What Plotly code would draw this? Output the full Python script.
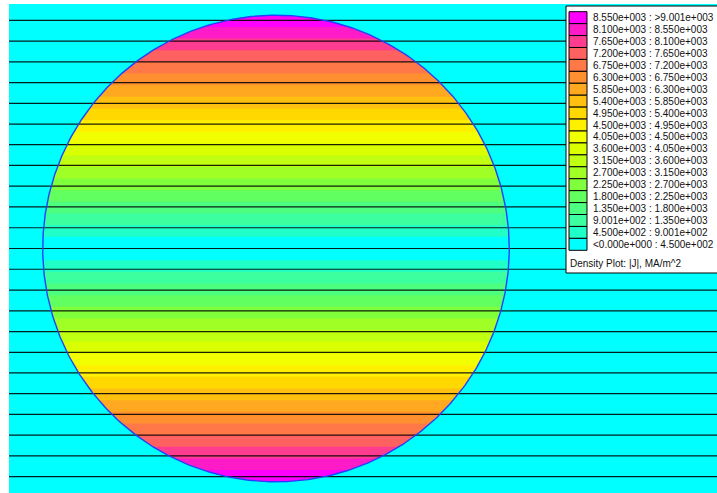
import numpy as np
import plotly.graph_objects as go

# Conductor geometry (normalised units) and peak current density
R = 1.0
CENTER_X, CENTER_Y = 0.0, 0.0
J_PEAK = 9001.0  # MA/m^2

# Density band lower bounds (MA/m^2), lowest band first
band_lower = [0.0, 450.0, 900.1, 1350.0, 1800.0, 2250.0, 2700.0, 3150.0, 3600.0, 4050.0,
              4500.0, 4950.0, 5400.0, 5850.0, 6300.0, 6750.0, 7200.0, 7650.0, 8100.0, 8550.0]

# Legend labels, lowest band first
band_labels = [
    "<0.000e+000 : 4.500e+002",
    "4.500e+002 : 9.001e+002",
    "9.001e+002 : 1.350e+003",
    "1.350e+003 : 1.800e+003",
    "1.800e+003 : 2.250e+003",
    "2.250e+003 : 2.700e+003",
    "2.700e+003 : 3.150e+003",
    "3.150e+003 : 3.600e+003",
    "3.600e+003 : 4.050e+003",
    "4.050e+003 : 4.500e+003",
    "4.500e+003 : 4.950e+003",
    "4.950e+003 : 5.400e+003",
    "5.400e+003 : 5.850e+003",
    "5.850e+003 : 6.300e+003",
    "6.300e+003 : 6.750e+003",
    "6.750e+003 : 7.200e+003",
    "7.200e+003 : 7.650e+003",
    "7.650e+003 : 8.100e+003",
    "8.100e+003 : 8.550e+003",
    "8.550e+003 : >9.001e+003",
]

# Band colours, lowest band first
band_colors = [
    "#00FFFF", "#20FFC8", "#3CFFA0", "#4CFF80", "#62FF60", "#80FF3C", "#A0FF24", "#C0FF12",
    "#DAFF00", "#F2FF00", "#FFF000", "#FFD800", "#FFC010", "#FFA820", "#FF9030", "#FF7848",
    "#FF6060", "#FF3C90", "#FF1CC8", "#FF00FF",
]

# Flux line positions (y, normalised units)
flux_levels = [-0.978, -0.889, -0.800, -0.711, -0.622, -0.533, -0.445, -0.356, -0.267, -0.178,
               -0.089, 0.0, 0.089, 0.178, 0.267, 0.356, 0.445, 0.533, 0.622, 0.711, 0.800,
               0.889, 0.978]

# Visible window
X_RANGE = [-1.1444, 1.8903]
Y_RANGE = [-1.048, 1.048]

BG = "#00FFFF"

fig = go.Figure()


def cap_polygon(y_from, sign):
    """Region of the conductor with |y| >= y_from on one side (sign=+1 top, -1 bottom)."""
    ys = np.linspace(y_from, R, 160)
    half = np.sqrt(np.clip(R ** 2 - ys ** 2, 0, None))
    xs = np.concatenate([CENTER_X - half, (CENTER_X + half)[::-1]])
    yy = np.concatenate([ys, ys[::-1]]) * sign + CENTER_Y
    return xs, yy


# Nested caps: each band covers everything beyond its lower bound, higher bands on top
for lo, color in zip(band_lower[1:], band_colors[1:]):
    y_lo = lo / J_PEAK * R
    for sign in (1, -1):
        xs, ys = cap_polygon(y_lo, sign)
        fig.add_trace(go.Scatter(
            x=xs, y=ys, mode="lines", fill="toself", fillcolor=color,
            line=dict(width=0, color=color), hoverinfo="skip", showlegend=False,
        ))

# Flux lines
for lvl in flux_levels:
    fig.add_trace(go.Scatter(
        x=[X_RANGE[0], X_RANGE[1]], y=[lvl, lvl], mode="lines",
        line=dict(color="rgba(0,0,0,0.88)", width=1.2),
        hoverinfo="skip", showlegend=False,
    ))

# Conductor outline
theta = np.linspace(0, 2 * np.pi, 720)
fig.add_trace(go.Scatter(
    x=CENTER_X + R * np.cos(theta), y=CENTER_Y + R * np.sin(theta), mode="lines",
    line=dict(color="#2040FF", width=1.4), hoverinfo="skip", showlegend=False,
))

# Plot area in pixels: x 9..717, y 4..493
PL, PR, PT, PB = 9, 717, 4, 493


def px(x):
    return (x - PL) / (PR - PL)


def py(y):
    return (PB - y) / (PB - PT)


shapes = []
annotations = []

# Legend panel
shapes.append(dict(type="rect", xref="paper", yref="paper",
                   x0=px(566), x1=px(722), y0=py(273), y1=py(6),
                   fillcolor="white", line=dict(color="black", width=1), layer="above"))

row_top = 11.7
row_h = 11.93
n = len(band_colors)
for i in range(n):
    idx = n - 1 - i  # highest band at top
    top = row_top + i * row_h
    bot = top + row_h
    shapes.append(dict(type="rect", xref="paper", yref="paper",
                       x0=px(569), x1=px(587), y0=py(bot), y1=py(top),
                       fillcolor=band_colors[idx], line=dict(color="black", width=1),
                       layer="above"))
    annotations.append(dict(xref="paper", yref="paper", x=px(591), y=py((top + bot) / 2),
                            text=band_labels[idx], showarrow=False, xanchor="left",
                            yanchor="middle",
                            font=dict(family="Liberation Sans", size=10, color="#111111")))

annotations.append(dict(xref="paper", yref="paper", x=px(568), y=py(263.5),
                        text="Density Plot: |J|, MA/m^2", showarrow=False, xanchor="left",
                        yanchor="middle",
                        font=dict(family="Liberation Sans", size=10, color="#111111")))

fig.update_layout(
    width=717, height=493,
    margin=dict(l=PL, r=717 - PR, t=PT, b=493 - PB, pad=0),
    paper_bgcolor="white", plot_bgcolor=BG,
    xaxis=dict(range=X_RANGE, visible=False, showgrid=False, zeroline=False, fixedrange=True),
    yaxis=dict(range=Y_RANGE, visible=False, showgrid=False, zeroline=False, fixedrange=True),
    shapes=shapes, annotations=annotations, showlegend=False,
)

fig.write_html("out.html")
